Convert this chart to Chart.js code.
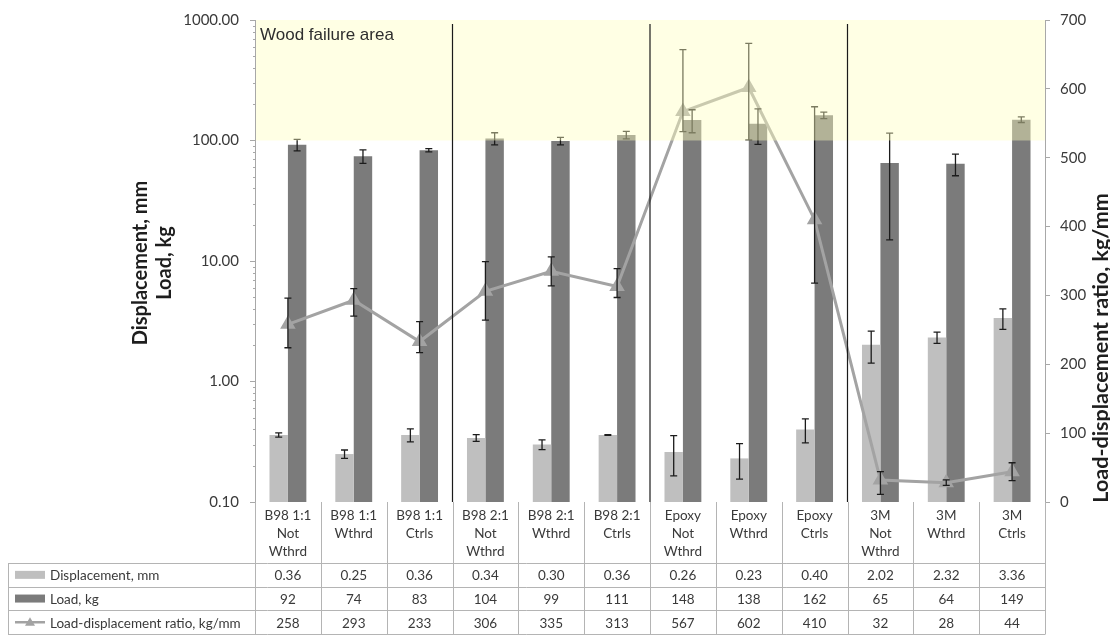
<!DOCTYPE html>
<html>
<head>
<meta charset="utf-8">
<script src="https://cdn.jsdelivr.net/npm/chart.js@4.4.1/dist/chart.umd.min.js"></script>
<style>
  html, body { margin: 0; padding: 0; background: #ffffff; }
  canvas { display: block; }
</style>
</head>
<body>
<canvas id="chart" width="1110" height="636" style="width:1110px;height:636px"></canvas>
<script>
// ---- data ----
const categories = [
  ["B98 1:1", "Not", "Wthrd"], ["B98 1:1", "Wthrd"], ["B98 1:1", "Ctrls"],
  ["B98 2:1", "Not", "Wthrd"], ["B98 2:1", "Wthrd"], ["B98 2:1", "Ctrls"],
  ["Epoxy", "Not", "Wthrd"], ["Epoxy", "Wthrd"], ["Epoxy", "Ctrls"],
  ["3M", "Not", "Wthrd"], ["3M", "Wthrd"], ["3M", "Ctrls"]
];
const displacement = [0.36, 0.25, 0.36, 0.34, 0.30, 0.36, 0.26, 0.23, 0.40, 2.02, 2.32, 3.36];
const load = [92, 74, 83, 104, 99, 111, 148, 138, 162, 65, 64, 149];
const ratio = [258, 293, 233, 306, 335, 313, 567, 602, 410, 32, 28, 44];

const displacementErr = [0.015, 0.02, 0.045, 0.022, 0.028, 0.003, 0.095, 0.075, 0.09, 0.6, 0.25, 0.65];
const loadErr = [10, 9.5, 2.5, 12, 7, 8, 32, 45, 10, 50, 13, 8];
const ratioErrUp = [38, 17, 29, 43, 21, 26, 90, 64, 164, 12, 4, 13];
const ratioErrDown = [34, 23, 16, 42, 21, 16, 29, 76, 92, 21, 4, 13];

const leftTicks = [0.1, 1, 10, 100, 1000];
const rightTicks = [0, 100, 200, 300, 400, 500, 600, 700];
const groupBreaks = [3, 6, 9];           // vertical dividers before these categories
const woodFailureRange = [100, 1000];    // shaded band on the left axis

const seriesNames = ["Displacement, mm", "Load, kg", "Load-displacement ratio, kg/mm"];
const leftTitle = ["Displacement, mm", "Load, kg"];
const rightTitle = "Load-displacement ratio, kg/mm";
const bandLabel = "Wood failure area";

// ---- styling ----
const FONT = "Lato, 'Open Sans', sans-serif";
const COL_DISP = "#bfbfbf";
const COL_LOAD = "#7b7b7b";
const COL_RATIO = "#a3a3a3";
const COL_AXIS = "#a8a8a8";
const COL_TEXT = "#3a3a3a";
const COL_GRID = "#b4b4b4";

function fmtDisp(v) { return v.toFixed(2); }
function fmtInt(v) { return String(Math.round(v)); }

// error bars for all three series
const errorBarPlugin = {
  id: "errorBars",
  afterDatasetsDraw(chart) {
    const ctx = chart.ctx;
    const yL = chart.scales.y, yR = chart.scales.y2;
    const cap = 3.5;
    ctx.save();
    ctx.strokeStyle = "#1c1c1c";
    ctx.lineWidth = 1.3;
    const drawBar = (x, yTop, yBot) => {
      ctx.beginPath();
      ctx.moveTo(x, yTop); ctx.lineTo(x, yBot);
      ctx.moveTo(x - cap, yTop); ctx.lineTo(x + cap, yTop);
      ctx.moveTo(x - cap, yBot); ctx.lineTo(x + cap, yBot);
      ctx.stroke();
    };
    const m0 = chart.getDatasetMeta(0), m1 = chart.getDatasetMeta(1), m2 = chart.getDatasetMeta(2);
    displacement.forEach((v, i) => {
      drawBar(m0.data[i].x, yL.getPixelForValue(v + displacementErr[i]), yL.getPixelForValue(v - displacementErr[i]));
    });
    load.forEach((v, i) => {
      drawBar(m1.data[i].x, yL.getPixelForValue(v + loadErr[i]), yL.getPixelForValue(v - loadErr[i]));
    });
    ratio.forEach((v, i) => {
      drawBar(m2.data[i].x, yR.getPixelForValue(v + ratioErrUp[i]), yR.getPixelForValue(v - ratioErrDown[i]));
    });
    ctx.restore();

    // translucent band over the failure region
    const area = chart.chartArea;
    const yTop = yL.getPixelForValue(woodFailureRange[1]);
    const yBot = yL.getPixelForValue(woodFailureRange[0]);
    ctx.save();
    ctx.fillStyle = "rgba(255, 255, 190, 0.42)";
    ctx.fillRect(area.left + 1, yTop, area.right - area.left - 1, yBot - yTop);

    // group dividers
    const xs = chart.scales.x;
    ctx.strokeStyle = "#1a1a1a";
    ctx.lineWidth = 1.2;
    groupBreaks.forEach(b => {
      const x = (xs.getPixelForValue(b - 1) + xs.getPixelForValue(b)) / 2;
      ctx.beginPath();
      ctx.moveTo(x, area.top + 4);
      ctx.lineTo(x, area.bottom);
      ctx.stroke();
    });

    ctx.fillStyle = "#2e2e2e";
    ctx.font = "17px 'Liberation Sans', Arial, sans-serif";
    ctx.textAlign = "left";
    ctx.textBaseline = "middle";
    ctx.fillText(bandLabel, area.left + 5, area.top + 15);
    ctx.restore();
  }
};

// minor log ticks, axis titles and the data table under the plot
const tablePlugin = {
  id: "dataTable",
  afterDraw(chart) {
    const ctx = chart.ctx;
    const area = chart.chartArea;
    const xs = chart.scales.x;
    const yL = chart.scales.y;
    ctx.save();

    // minor ticks on the log axis
    ctx.strokeStyle = COL_AXIS;
    ctx.lineWidth = 1;
    for (let d = 0.1; d < 1000; d *= 10) {
      for (let k = 2; k <= 9; k++) {
        const y = Math.round(yL.getPixelForValue(d * k)) + 0.5;
        ctx.beginPath();
        ctx.moveTo(area.left - 2, y);
        ctx.lineTo(area.left + 1, y);
        ctx.stroke();
      }
    }

    // axis titles
    ctx.fillStyle = "#1e1e1e";
    ctx.font = "bold 20px " + FONT;
    ctx.textAlign = "center";
    ctx.textBaseline = "middle";
    ctx.save();
    ctx.translate(141, (area.top + area.bottom) / 2 + 2);
    ctx.rotate(-Math.PI / 2);
    ctx.fillText(leftTitle[0], 0, 0);
    ctx.fillText(leftTitle[1], 0, 24);
    ctx.restore();
    ctx.save();
    ctx.font = "bold 21.5px " + FONT;
    ctx.translate(1101, 348);
    ctx.rotate(-Math.PI / 2);
    ctx.fillText(rightTitle, 0, 0);
    ctx.restore();

    // table geometry
    const n = categories.length;
    const bounds = [];
    for (let i = 0; i <= n; i++) {
      if (i === 0) bounds.push(area.left);
      else if (i === n) bounds.push(area.right);
      else bounds.push((xs.getPixelForValue(i - 1) + xs.getPixelForValue(i)) / 2);
    }
    const tableLeft = 8;
    const headTop = area.bottom;
    const headBottom = 563;
    const rowH = 23.7;
    const rowYs = [headBottom, headBottom + rowH, headBottom + 2 * rowH, headBottom + 3 * rowH];

    ctx.strokeStyle = COL_GRID;
    ctx.lineWidth = 1;
    bounds.forEach(x => {
      const xx = Math.round(x) + 0.5;
      ctx.beginPath();
      ctx.moveTo(xx, headTop);
      ctx.lineTo(xx, rowYs[3]);
      ctx.stroke();
    });
    ctx.beginPath();
    ctx.moveTo(tableLeft + 0.5, rowYs[0]);
    ctx.lineTo(tableLeft + 0.5, rowYs[3]);
    ctx.stroke();
    rowYs.forEach(y => {
      const yy = Math.round(y) + 0.5;
      ctx.beginPath();
      ctx.moveTo(tableLeft, yy);
      ctx.lineTo(area.right + 0.5, yy);
      ctx.stroke();
    });

    // category headers
    ctx.fillStyle = COL_TEXT;
    ctx.font = "13.5px " + FONT;
    ctx.textAlign = "center";
    ctx.textBaseline = "middle";
    categories.forEach((lines, i) => {
      const cx = xs.getPixelForValue(i);
      lines.forEach((t, k) => ctx.fillText(t, cx, headTop + 14 + k * 18));
    });

    // legend keys and row labels
    const rowMid = k => (rowYs[k] + rowYs[k + 1]) / 2;
    ctx.fillStyle = COL_DISP;
    ctx.fillRect(15, rowMid(0) - 4, 30, 8);
    ctx.fillStyle = COL_LOAD;
    ctx.fillRect(15, rowMid(1) - 4, 30, 8);
    ctx.strokeStyle = COL_RATIO;
    ctx.lineWidth = 2.5;
    ctx.beginPath();
    ctx.moveTo(15, rowMid(2));
    ctx.lineTo(45, rowMid(2));
    ctx.stroke();
    ctx.fillStyle = COL_RATIO;
    ctx.beginPath();
    ctx.moveTo(30, rowMid(2) - 5);
    ctx.lineTo(35, rowMid(2) + 3.5);
    ctx.lineTo(25, rowMid(2) + 3.5);
    ctx.closePath();
    ctx.fill();

    ctx.fillStyle = COL_TEXT;
    ctx.textAlign = "left";
    seriesNames.forEach((s, k) => ctx.fillText(s, 50, rowMid(k) + 1));

    // values
    ctx.textAlign = "center";
    const rows = [displacement.map(fmtDisp), load.map(fmtInt), ratio.map(fmtInt)];
    rows.forEach((vals, k) => {
      vals.forEach((t, i) => ctx.fillText(t, xs.getPixelForValue(i), rowMid(k) + 1));
    });

    ctx.restore();
  }
};

const ctx = document.getElementById("chart").getContext("2d");
new Chart(ctx, {
  data: {
    labels: categories,
    datasets: [
      {
        type: "bar",
        label: seriesNames[0],
        data: displacement,
        backgroundColor: COL_DISP,
        yAxisID: "y",
        order: 1,
        categoryPercentage: 0.56,
        barPercentage: 1.0
      },
      {
        type: "bar",
        label: seriesNames[1],
        data: load,
        backgroundColor: COL_LOAD,
        yAxisID: "y",
        order: 1,
        categoryPercentage: 0.56,
        barPercentage: 1.0
      },
      {
        type: "line",
        label: seriesNames[2],
        data: ratio,
        yAxisID: "y2",
        order: 0,
        borderColor: COL_RATIO,
        borderWidth: 3,
        pointStyle: "triangle",
        pointRadius: 6,
        pointBackgroundColor: COL_RATIO,
        pointBorderColor: COL_RATIO,
        tension: 0
      }
    ]
  },
  options: {
    responsive: false,
    animation: false,
    devicePixelRatio: 1,
    layout: { padding: { top: 15, bottom: 134, left: 0, right: 0 } },
    plugins: {
      legend: { display: false },
      tooltip: { enabled: false },
      title: { display: false }
    },
    scales: {
      x: {
        type: "category",
        display: false,
        offset: true
      },
      y: {
        type: "logarithmic",
        position: "left",
        min: 0.1,
        max: 1000,
        afterFit(s) { s.width = 255; },
        afterBuildTicks(s) { s.ticks = leftTicks.map(v => ({ value: v, major: true })); },
        ticks: {
          callback: v => Number(v).toFixed(2),
          color: COL_TEXT,
          font: { family: FONT, size: 15 },
          padding: 11,
          autoSkip: false
        },
        grid: { drawOnChartArea: false, drawTicks: true, tickLength: 5, color: COL_AXIS },
        border: { display: true, color: COL_AXIS }
      },
      y2: {
        type: "linear",
        position: "right",
        min: 0,
        max: 700,
        afterFit(s) { s.width = 65; },
        afterBuildTicks(s) { s.ticks = rightTicks.map(v => ({ value: v })); },
        ticks: {
          color: COL_TEXT,
          font: { family: FONT, size: 15 },
          padding: 10
        },
        grid: { drawOnChartArea: false, drawTicks: true, tickLength: 5, color: COL_AXIS },
        border: { display: true, color: COL_AXIS }
      }
    }
  },
  plugins: [errorBarPlugin, tablePlugin]
});
</script>
</body>
</html>
